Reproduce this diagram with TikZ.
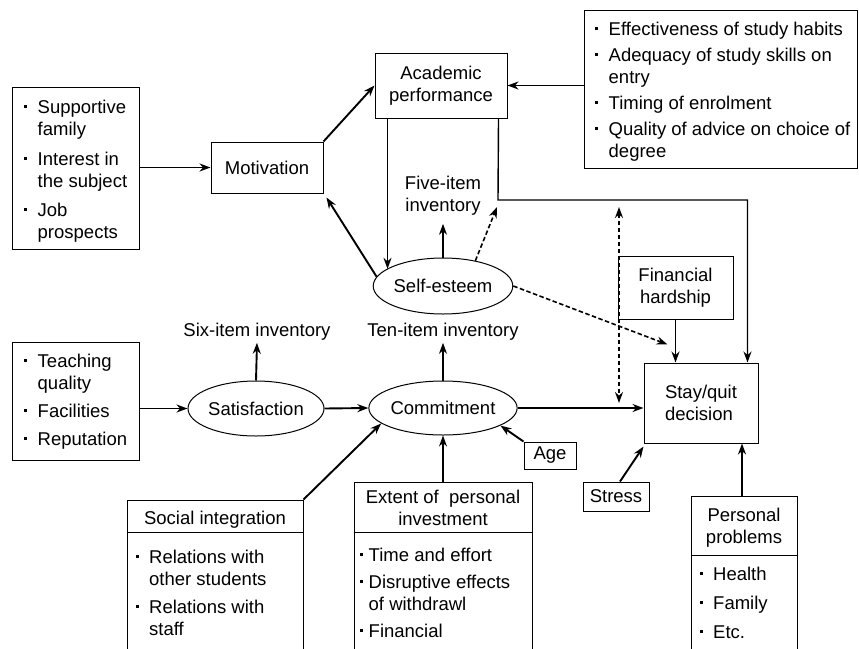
\documentclass[tikz,border=0pt]{standalone}
\usepackage{fontspec}
\setmainfont{Liberation Sans}
\usetikzlibrary{arrows.meta,shapes.geometric}

% small square bullet used in the lists
\newcommand\bul{\raisebox{0.26em}{\rule{3pt}{3pt}}}

\begin{document}
\begin{tikzpicture}[x=1pt,y=-1pt,
  font=\fontsize{18.5}{22}\selectfont,
  box/.style={draw,line width=1pt,rectangle,inner sep=0pt},
  oval/.style={draw,line width=1pt,ellipse,inner sep=0pt},
  txt/.style={inner sep=0pt},
  tip/.style={-{Stealth[length=11pt,width=8pt]}},
  arr/.style={tip,line width=1.9pt},
  thinarr/.style={tip,line width=1.4pt},
  dashline/.style={line width=1.6pt,dash pattern=on 4.5pt off 2.5pt},
  dasharr/.style={tip,dashline},
  dasharrboth/.style={{Stealth[length=11pt,width=8pt]}-{Stealth[length=11pt,width=8pt]},dashline},
]
\useasboundingbox (0,0) rectangle (859,648);
\clip (0,0) rectangle (859,648);
\fill[white] (0,0) rectangle (859,648);

% ---- boxes with bullet lists -------------------------------------------
\node[box,minimum width=127pt,minimum height=162pt] (fam) at (75.5,168) {};
\node[txt,anchor=base west] (famtxt) at (24,113) {\begin{tabular}[t]{@{}l@{\hspace{10.5pt}}l@{}}
  \bul & Supportive\\ & family\\[8pt]
  \bul & Interest in\\ & the subject\\[7pt]
  \bul & Job\\ & prospects\end{tabular}};

\node[box,minimum width=273pt,minimum height=158pt] (hab) at (720.5,89) {};
\node[txt,anchor=base west] (habtxt) at (595,35) {\begin{tabular}[t]{@{}l@{\hspace{10.5pt}}l@{}}
  \bul & Effectiveness of study habits\\[4pt]
  \bul & Adequacy of study skills on\\ & entry\\[4pt]
  \bul & Timing of enrolment\\[4pt]
  \bul & Quality of advice on choice of\\ & degree\end{tabular}};

\node[box,minimum width=127pt,minimum height=118pt] (teach) at (75.5,401) {};
\node[txt,anchor=base west] (teachtxt) at (24,367) {\begin{tabular}[t]{@{}l@{\hspace{10.5pt}}l@{}}
  \bul & Teaching\\ & quality\\[6pt]
  \bul & Facilities\\[6pt]
  \bul & Reputation\end{tabular}};

% ---- boxes with a heading ----------------------------------------------
\node[box,minimum width=176pt,minimum height=200pt] (soc) at (215,600) {};
\draw[line width=1pt] ([yshift=-33pt]soc.north west) -- ([yshift=-33pt]soc.north east);
\node[txt,anchor=base] (sochead) at (215,524) {Social integration};
\node[txt,anchor=base west] (soctxt) at (136,563) {\begin{tabular}[t]{@{}l@{\hspace{10pt}}l@{}}
  \bul & Relations with\\ & other students\\[6pt]
  \bul & Relations with\\ & staff\end{tabular}};

\node[box,minimum width=178pt,minimum height=218pt] (ext) at (443,591) {};
\draw[line width=1pt] ([yshift=-51pt]ext.north west) -- ([yshift=-51pt]ext.north east);
\node[txt,anchor=base] (exthead) at (443,503) {\begin{tabular}[t]{@{}c@{}}Extent of\ \ personal\\investment\end{tabular}};
\node[txt,anchor=base west] (exttxt) at (360,561) {\begin{tabular}[t]{@{}l@{\hspace{5.5pt}}l@{}}
  \bul & Time and effort\\[5pt]
  \bul & Disruptive effects\\ & of withdrawl\\[5pt]
  \bul & Financial\end{tabular}};

\node[box,minimum width=106pt,minimum height=204pt] (pers) at (744,598) {};
\draw[line width=1pt] ([yshift=-60pt]pers.north west) -- ([yshift=-60pt]pers.north east);
\node[txt,anchor=base] (pershead) at (744,521) {\begin{tabular}[t]{@{}c@{}}Personal\\problems\end{tabular}};
\node[txt,anchor=base west] (perstxt) at (700,580) {\begin{tabular}[t]{@{}l@{\hspace{10pt}}l@{}}
  \bul & Health\\[7pt]
  \bul & Family\\[7pt]
  \bul & Etc.\end{tabular}};

% ---- plain boxes ---------------------------------------------------------
\node[box,minimum width=112pt,minimum height=51pt] (mot) at (267,167.5) {Motivation};
\node[box,minimum width=132pt,minimum height=65pt,align=center] (acad) at (441,85.5) {Academic\\performance};
\node[box,minimum width=115pt,minimum height=63pt,align=center] (fin) at (675.5,287.5) {Financial\\hardship};
\node[box,minimum width=114pt,minimum height=80pt,align=left] (stay) at (701,403) {Stay/quit\\decision};
\node[box,minimum width=52pt,minimum height=27pt] (age) at (550,455.5) {Age};
\node[box,minimum width=66pt,minimum height=29pt] (stress) at (616,496.5) {Stress};

% ---- ellipses and inventory labels -----------------------------------------
\node[oval,minimum width=139pt,minimum height=56pt] (se) at (443,286) {Self-esteem};
\node[oval,minimum width=136pt,minimum height=55pt] (sat) at (256,408.5) {Satisfaction};
\node[oval,minimum width=138pt,minimum height=54pt] (comm) at (443,408) {Commitment};
\node[txt,align=center] (five) at (443,196) {Five-item\\inventory};
\node[txt] (six) at (257,332) {Six-item inventory};
\node[txt] (ten) at (443,332) {Ten-item inventory};

\coordinate (bend) at (498,200);
\coordinate (bendtip) at (497,207);
\coordinate (dtop) at (619,207);
\coordinate (dbot) at (619,403);

% ---- connectors -----------------------------------------------------------
\draw[arr] (fam.east |- mot.west) -- (mot.west);
\draw[arr] (mot.north east) -- (acad.west);
\draw[arr] (hab.west |- acad.east) -- (acad.east);
\draw[arr] ([xshift=13pt]acad.south west) -- ([xshift=13pt]acad.south west |- se.163);
\draw[thinarr] ([xshift=-9pt]acad.south east) -- (bend) -| ([xshift=-11pt]stay.north east);
\draw[thinarr] (se.north) -- ([yshift=-8pt]five.south);
\draw[dasharr] (se.38) -- (bendtip);
\draw[arr] (se.172) -- ([shift={(3pt,-4pt)}]mot.south east);
\draw[dasharr] (se.east) -- ([shift={(24pt,18pt)}]stay.north west);
\draw[thinarr] (fin.south) -- (fin.south |- stay.north);
\draw[dasharrboth] (dtop) -- (dbot);
\draw[arr] (teach.east |- sat.west) -- (sat.west);
\draw[arr] (sat.east) -- (comm.west);
\draw[arr] (comm.east) -- (stay.west |- comm.east);
\draw[arr] (sat.north) -- ([yshift=-2pt]six.south);
\draw[thinarr] (comm.north) -- ([yshift=-2pt]ten.south);
\draw[arr] (age.north west) -- (comm.-17);
\draw[arr] (soc.north east) -- (comm.-166);
\draw[thinarr] (ext.north) -- (comm.south);
\draw[arr] ([xshift=4pt]stress.north) -- ([yshift=-3pt]stay.south west);
\draw[arr] ([xshift=-2pt]pers.north) -- ([xshift=-2pt]pers.north |- stay.south);
\end{tikzpicture}
\end{document}
